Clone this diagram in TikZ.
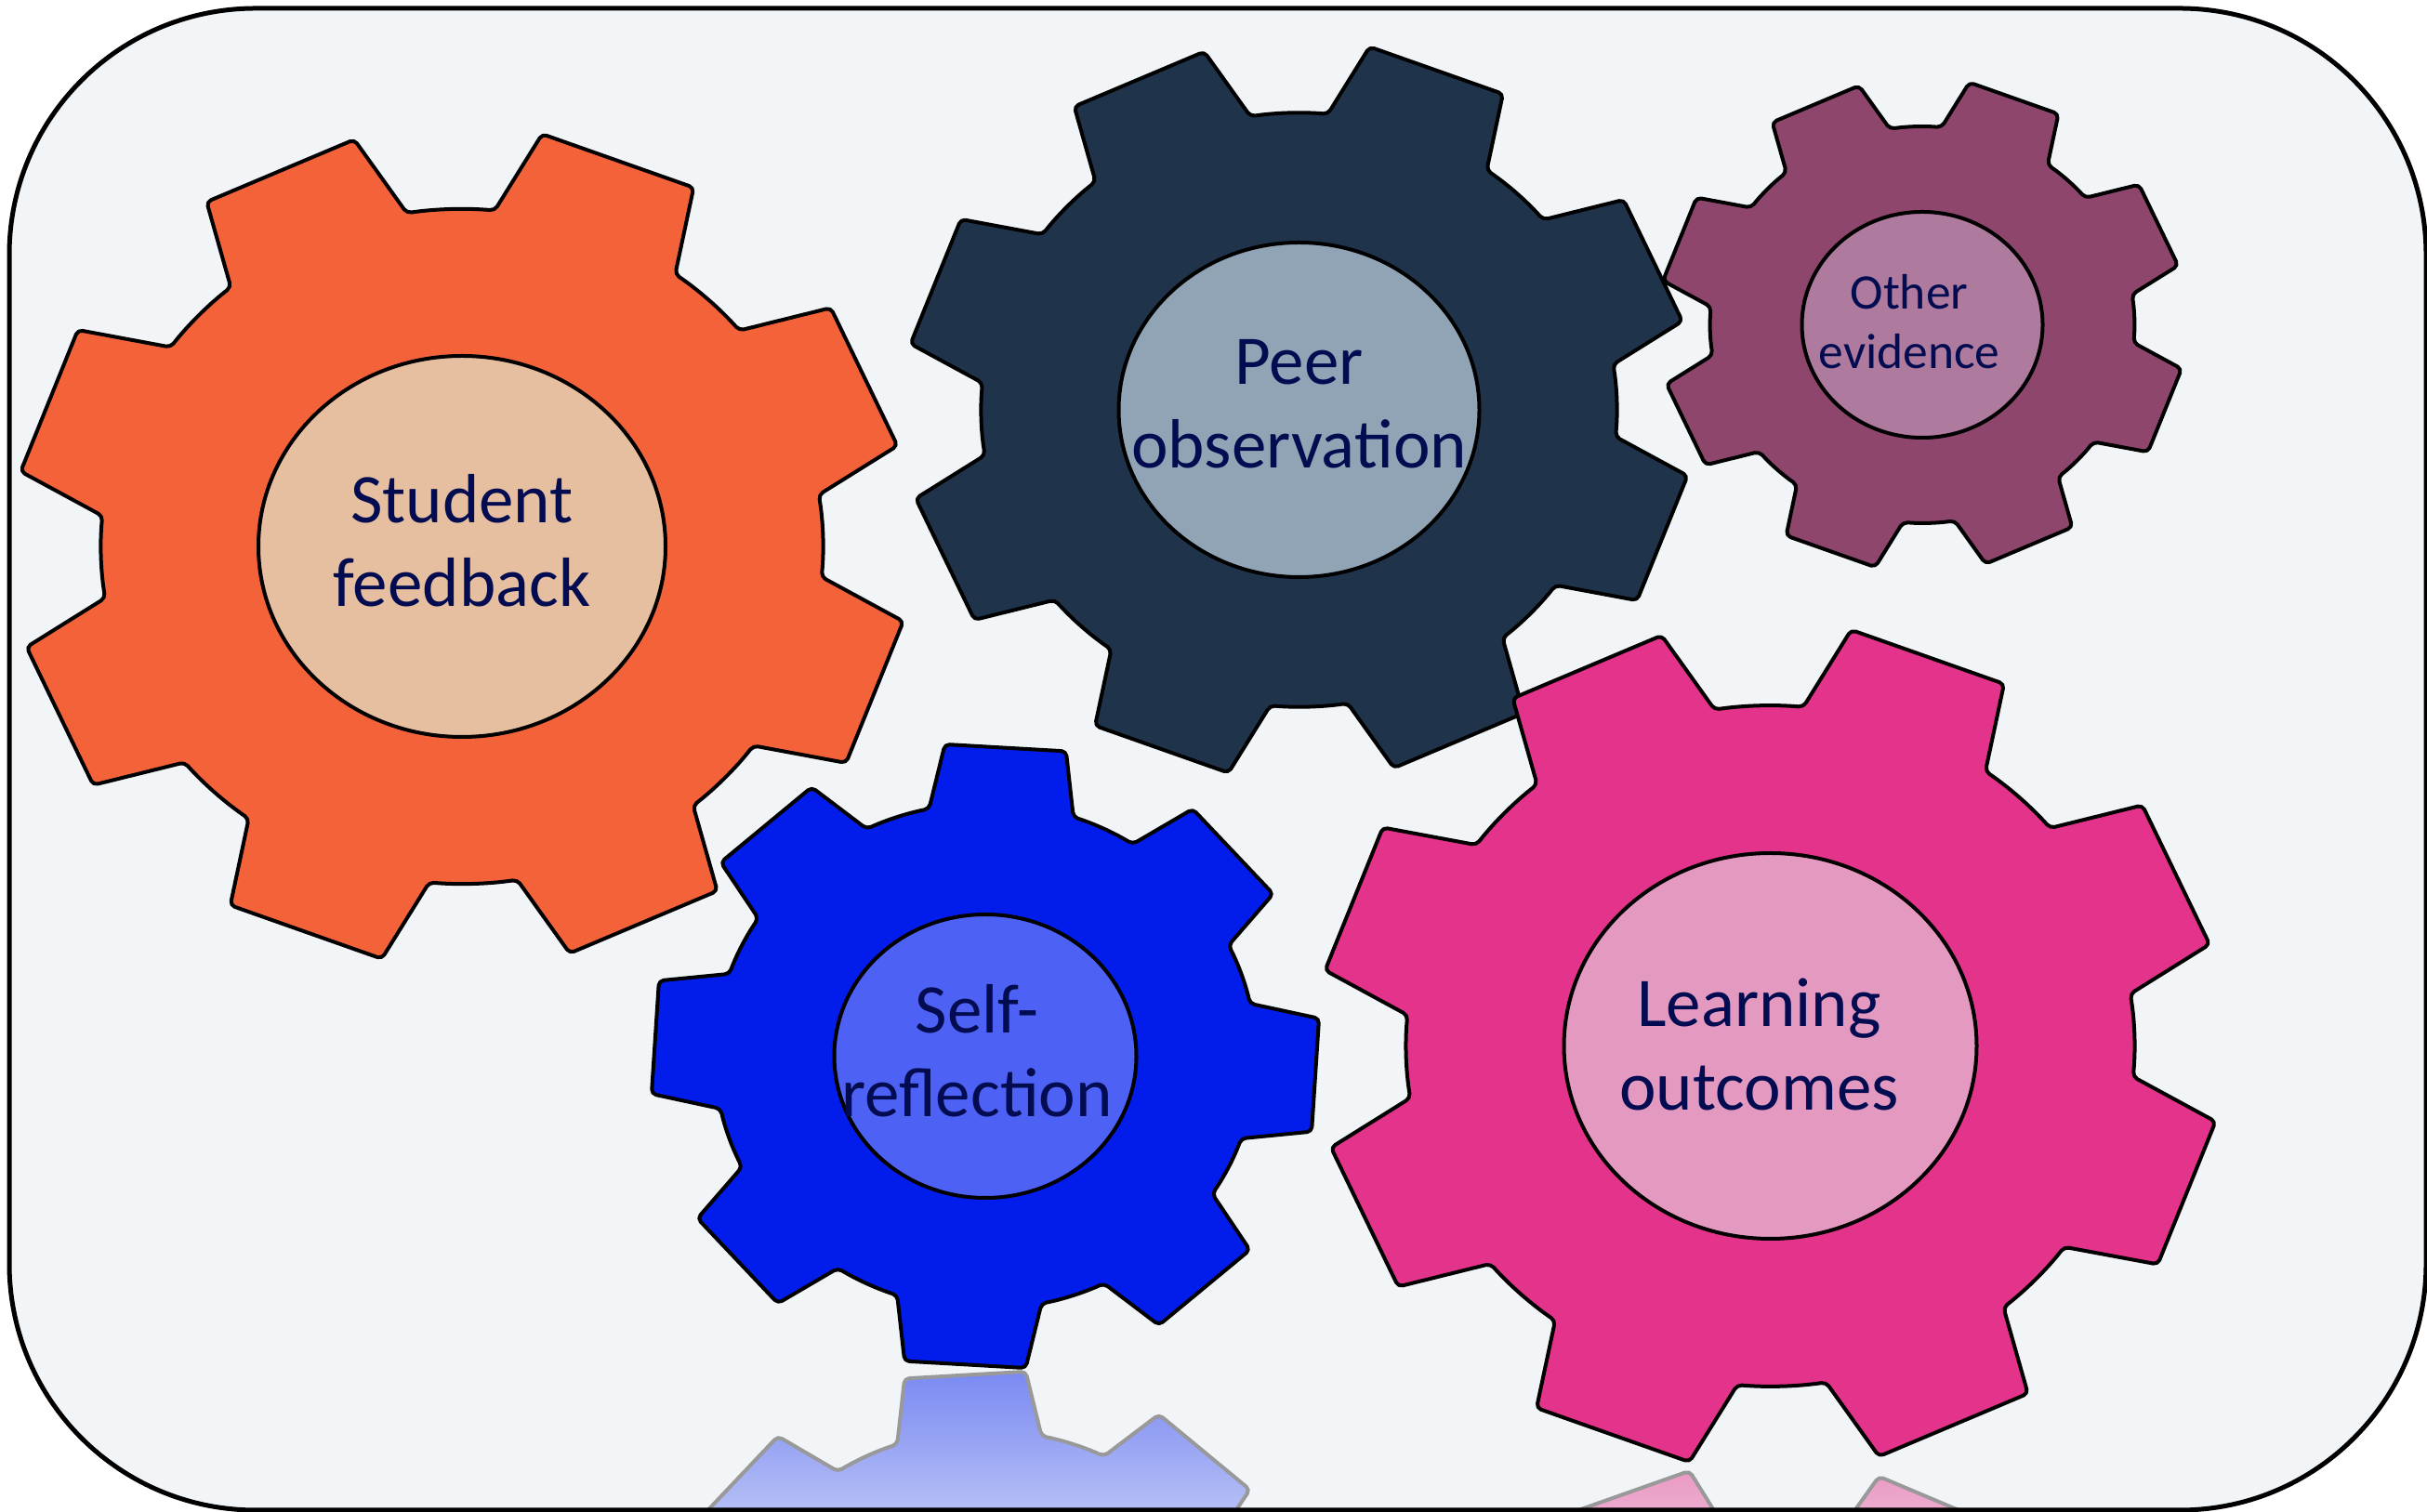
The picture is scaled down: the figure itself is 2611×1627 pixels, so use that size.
\documentclass[tikz,border=0pt]{standalone}
\usepackage{fontspec}
\setmainfont{Carlito}
\usepackage{tikz}

\definecolor{slide}{RGB}{241,245,248}
\definecolor{ink}{RGB}{3,12,80}
\definecolor{sfbody}{RGB}{244,98,58}
\definecolor{sfhub}{RGB}{230,190,160}
\definecolor{pobody}{RGB}{31,52,75}
\definecolor{pohub}{RGB}{145,164,181}
\definecolor{oebody}{RGB}{142,70,109}
\definecolor{oehub}{RGB}{174,122,158}
\definecolor{srbody}{RGB}{2,29,235}
\definecolor{srhub}{RGB}{77,97,245}
\definecolor{lobody}{RGB}{228,51,138}
\definecolor{lohub}{RGB}{228,153,193}

% eight teeth on a unit gear, #1 = turn of the first tooth
\newcommand\gearpath[1]{(#1:0.9836)
  \foreach \n in {0,...,7}{
    -- (#1+\n*45+10.4:1) -- (#1+\n*45+15.5:0.805)
    arc[start angle=#1+\n*45+15.5, end angle=#1+\n*45+29.5, radius=0.805]
    -- (#1+\n*45+34.6:1)
  } -- cycle}
% #1 centre, #2 tip radius, #3 turn, #4 colour
\newcommand\gear[4]{%
  \draw[gear body, fill=#4, shift={(#1)}, xscale=1.07*#2, yscale=#2] \gearpath{#3};}

\begin{document}
\begin{tikzpicture}[
  x=1pt, y=1pt,
  slide frame/.style={line width=5pt, rounded corners=265pt},
  gear body/.style={draw=black, line width=4pt, line join=round, rounded corners=5pt},
  gear hub/.style={draw=black, line width=4pt},
  gear label/.style={text=ink, align=center, inner sep=0pt, yshift=6pt,
    font=\fontsize{75}{90}\selectfont},
  glint edge/.style={draw=black!40, line width=4pt, line join=round, rounded corners=5pt},
]
\useasboundingbox (0,0) rectangle (2611,1627);
\fill[slide, slide frame] (10,2) rectangle (2610,1618);

\coordinate (sf) at (497,1039);
\coordinate (po) at (1397.5,1186);
\coordinate (oe) at (2068,1277.5);
\coordinate (sr) at (1060,490.5);
\coordinate (lo) at (1904.5,501.5);

% mirrored images under the two lower gears
\begin{scope}
  \clip[rounded corners=265pt] (10,2) rectangle (2610,1618);
  \begin{scope}
    \clip[shift={(1060,-184.5)}, xscale=1.07*338, yscale=-338] \gearpath{-3.5};
    \shade[top color=srbody!50!slide, bottom color=srbody!25!slide] (680,153) rectangle (1440,0);
  \end{scope}
  \draw[glint edge, shift={(1060,-184.5)}, xscale=1.07*338, yscale=-338] \gearpath{-3.5};
  \begin{scope}
    \clip[shift={(1904.5,-403.5)}, xscale=1.07*455, yscale=-455] \gearpath{24.3};
    \shade[top color=lobody!48!slide, bottom color=lobody!38!slide] (1400,49) rectangle (2400,0);
  \end{scope}
  \draw[glint edge, shift={(1904.5,-403.5)}, xscale=1.07*455, yscale=-455] \gearpath{24.3};
\end{scope}

\gear{sf}{451}{24.3}{sfbody}
\draw[gear hub, fill=sfhub] (sf) ellipse [x radius=219, y radius=205];
\node[gear label] (sfText) at (sf) {Student\\feedback};

\gear{po}{397}{24.3}{pobody}
\draw[gear hub, fill=pohub] (po) ellipse [x radius=194, y radius=180];
\node[gear label] (poText) at (po) {Peer\\observation};

\gear{oe}{265}{24.3}{oebody}
\draw[gear hub, fill=oehub] (oe) ellipse [x radius=129.5, y radius=121.5];
\node[gear label, xshift=-14pt, yshift=-3pt, font=\fontsize{53.5}{64}\selectfont] (oeText) at (oe) {Other\\evidence};

\gear{sr}{338}{-3.5}{srbody}
\draw[gear hub, fill=srhub] (sr) ellipse [x radius=162.5, y radius=152.5];
\node[gear label, xshift=-9pt] (srText) at (sr) {Self-\\reflection};

\gear{lo}{455}{24.3}{lobody}
\draw[gear hub, fill=lohub] (lo) ellipse [x radius=222, y radius=207.5];
\node[gear label, xshift=-12pt, yshift=-4pt] (loText) at (lo) {Learning\\outcomes};

\draw[slide frame] (10,2) rectangle (2610,1618);
\end{tikzpicture}
\end{document}
